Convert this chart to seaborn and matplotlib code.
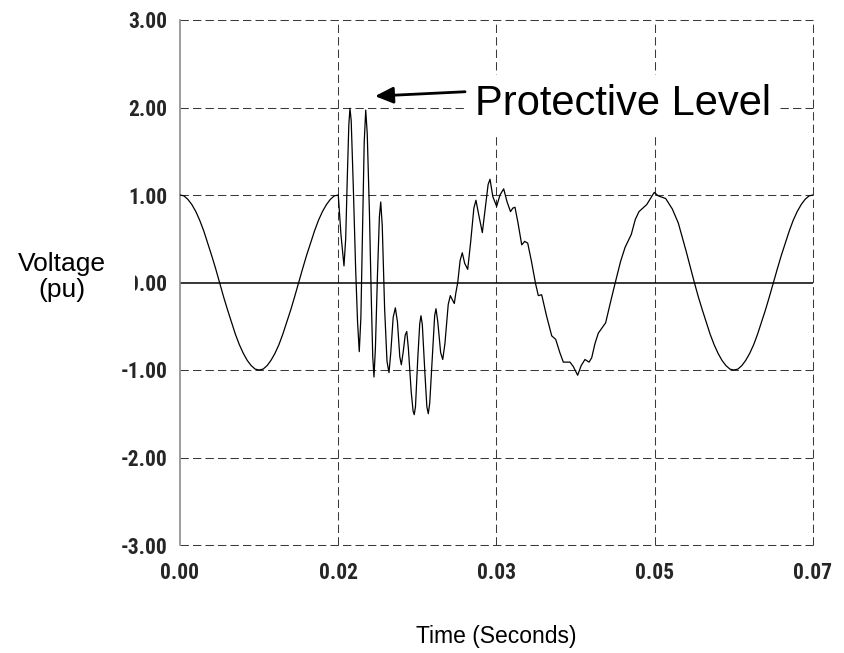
import matplotlib
matplotlib.use("Agg")
import matplotlib.pyplot as plt
import numpy as np
import pandas as pd
import seaborn as sns

# Voltage waveform (per unit) versus time (milliseconds)
steady_t_ms = [0.00, 0.42, 0.83, 1.25, 1.67, 2.08, 2.50, 2.92, 3.33, 3.75, 4.17,
               4.58, 5.00, 5.42, 5.83, 6.25, 6.67, 7.08, 7.50, 7.92, 8.33,
               8.75, 9.17, 9.58, 10.00, 10.42, 10.83, 11.25, 11.67, 12.08, 12.50,
               12.92, 13.33, 13.75, 14.17, 14.58, 15.00, 15.42, 15.83, 16.25, 16.67]
steady_v = [1.00, 0.99, 0.95, 0.89, 0.81, 0.71, 0.59, 0.45, 0.31, 0.16, 0.00,
            -0.16, -0.31, -0.45, -0.59, -0.71, -0.81, -0.89, -0.95, -0.99, -1.00,
            -0.99, -0.95, -0.89, -0.81, -0.71, -0.59, -0.45, -0.31, -0.16, 0.00,
            0.16, 0.31, 0.45, 0.59, 0.71, 0.81, 0.89, 0.95, 0.99, 1.00]

# switching surge: fast ring-down, then a rippled recovery
surge_t_ms = [16.95, 17.27, 17.45, 17.62, 17.78, 17.90, 18.03, 18.25, 18.50, 18.70,
              18.88, 19.05, 19.22, 19.40, 19.56, 19.72, 19.95, 20.15, 20.30, 20.43,
              20.58, 20.80, 21.00, 21.14, 21.30, 21.55, 21.80, 22.01, 22.20, 22.45,
              22.68, 22.90, 23.15, 23.31, 23.50, 23.72, 23.88, 24.05, 24.35, 24.55,
              24.67, 24.80, 25.05, 25.25, 25.38, 25.52, 25.80, 26.00, 26.15, 26.30,
              26.60, 26.82, 26.96, 27.15, 27.45, 27.67, 27.90, 28.25, 28.47, 28.65,
              28.89, 29.05, 29.25, 29.50, 29.73, 29.98, 30.30, 30.60, 30.95, 31.17,
              31.45, 31.84, 32.15, 32.45, 32.65, 32.95, 33.35, 33.70, 34.09, 34.45,
              34.81, 35.05, 35.28, 35.60, 35.99, 36.30, 36.62, 37.00, 37.46, 37.74,
              38.09, 38.60, 39.15, 39.57, 40.00, 40.37, 41.07, 41.42, 41.88, 42.25,
              42.65, 43.08, 43.36, 43.70, 44.05, 44.83, 45.35, 45.89, 46.40, 46.87,
              47.53, 47.95, 48.34, 49.15, 49.60, 49.95, 50.37, 51.15, 51.85, 52.48,
              53.30, 54.17]
surge_v = [0.55, 0.19, 0.50, 1.20, 1.80, 1.99, 1.85, 1.10, 0.15, -0.45,
           -0.79, -0.40, 0.60, 1.60, 1.97, 1.70, 0.80, -0.20, -0.85, -1.08,
           -0.75, 0.10, 0.75, 0.92, 0.65, -0.30, -0.90, -1.03, -0.80, -0.40,
           -0.29, -0.45, -0.85, -0.94, -0.80, -0.60, -0.56, -0.75, -1.25, -1.47,
           -1.51, -1.42, -0.85, -0.47, -0.38, -0.48, -1.05, -1.42, -1.50, -1.38,
           -0.80, -0.38, -0.30, -0.45, -0.80, -0.88, -0.70, -0.25, -0.15, -0.19,
           -0.24, -0.12, 0.00, 0.25, 0.34, 0.22, 0.15, 0.45, 0.85, 0.94,
           0.78, 0.57, 0.85, 1.12, 1.18, 0.98, 0.87, 1.00, 1.07, 0.92,
           0.81, 0.85, 0.86, 0.68, 0.43, 0.47, 0.45, 0.25, -0.02, -0.15,
           -0.14, -0.38, -0.61, -0.65, -0.80, -0.91, -0.91, -0.96, -1.06, -0.95,
           -0.88, -0.91, -0.86, -0.70, -0.58, -0.46, -0.22, 0.02, 0.24, 0.40,
           0.55, 0.72, 0.81, 0.89, 0.97, 1.03, 0.99, 0.96, 0.84, 0.68,
           0.36, 0.00]

after_t_ms = [54.58, 55.00, 55.42, 55.83, 56.25, 56.67, 57.08, 57.50, 57.92, 58.33,
              58.75, 59.17, 59.58, 60.00, 60.42, 60.83, 61.25, 61.67, 62.08, 62.50,
              62.92, 63.33, 63.75, 64.17, 64.58, 65.00, 65.42, 65.83, 66.25, 66.67]
after_v = [-0.16, -0.31, -0.45, -0.59, -0.71, -0.81, -0.89, -0.95, -0.99, -1.00,
           -0.99, -0.95, -0.89, -0.81, -0.71, -0.59, -0.45, -0.31, -0.16, 0.00,
           0.16, 0.31, 0.45, 0.59, 0.71, 0.81, 0.89, 0.95, 0.99, 1.00]

x_ticks_s = [0.0, 1 / 60, 2 / 60, 3 / 60, 4 / 60]
x_tick_labels = ["0.00", "0.02", "0.03", "0.05", "0.07"]
y_ticks = [-3, -2, -1, 0, 1, 2, 3]
y_tick_labels = ["-3.00", "-2.00", "-1.00", "0.00", "1.00", "2.00", "3.00"]

df = pd.DataFrame({
    "time": np.array(steady_t_ms + surge_t_ms + after_t_ms) / 1000.0,
    "voltage": steady_v + surge_v + after_v,
})

sns.set_theme(style="white")
plt.rcParams["font.family"] = ["Liberation Sans", "DejaVu Sans"]

fig = plt.figure(figsize=(8.45, 6.53), dpi=100)
ax = fig.add_axes([180 / 845, 1 - 545 / 653, 633 / 845, 525 / 653])

dash = (0, (8, 4))
grid_color = "#3a3a3a"

# dashed grid (the frame edges are part of it)
for xv in x_ticks_s[1:]:
    ax.axvline(xv, color=grid_color, lw=0.75, ls=dash, zorder=1, clip_on=False)
for yv in y_ticks:
    if yv != 0:
        ax.axhline(yv, color=grid_color, lw=0.75, ls=dash, zorder=1, clip_on=False)
ax.axhline(0, color="black", lw=1.1, zorder=2)

sns.lineplot(data=df, x="time", y="voltage", sort=False, estimator=None,
             color="black", lw=0.9, ax=ax, zorder=3)

ax.set_xlim(0, 4 / 60)
ax.set_ylim(-3, 3)
for side in ["top", "right", "bottom"]:
    ax.spines[side].set_visible(False)
ax.spines["left"].set_color("#8c8c8c")
ax.spines["left"].set_linewidth(1.2)

tick_font = dict(family=["Roboto Condensed", "Liberation Sans Narrow", "Liberation Sans"],
                 weight="bold", size=15.5)
ax.set_xticks(x_ticks_s)
ax.set_xticklabels(x_tick_labels, fontdict=tick_font)
ax.set_yticks(y_ticks)
ax.set_yticklabels(y_tick_labels, fontdict=tick_font)
ax.tick_params(axis="x", length=0, pad=12)
ax.tick_params(axis="y", length=0, pad=9)

ax.set_xlabel("Time (Seconds)", fontsize=16.5, color="black")
ax.xaxis.set_label_coords(0.5, (545 - 636) / 525)
ax.xaxis.label.set_va("center")

ax.set_ylabel("Voltage\n(pu)", fontsize=19, rotation=0, color="black",
              ha="center", va="center", linespacing=1.1,
              bbox=dict(boxstyle="square,pad=1.1", fc="white", ec="none"))
ax.yaxis.set_label_coords((62 - 180) / 633, (545 - 277) / 525)

ax.text(0.03107, 1.91, "Protective Level", fontsize=30, color="black",
        ha="left", va="baseline", zorder=5,
        bbox=dict(boxstyle="square,pad=0.22", fc="white", ec="none"))
ax.annotate("", xy=(0.02054, 2.13), xytext=(0.03002, 2.18),
            arrowprops=dict(arrowstyle="-|>,head_length=1.1,head_width=0.5",
                            color="black", lw=2.0, mutation_scale=10,
                            shrinkA=0, shrinkB=0),
            zorder=6)

fig.savefig("out.png", dpi=100, facecolor="white")
